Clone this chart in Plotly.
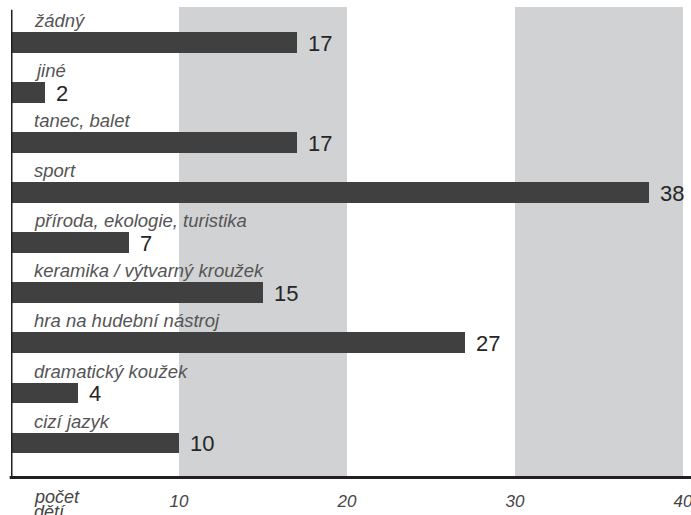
import plotly.graph_objects as go

# Activities (listed bottom to top) and number of children per activity
categories = [
    "cizí jazyk",
    "dramatický koužek",
    "hra na hudební nástroj",
    "keramika / výtvarný kroužek",
    "příroda, ekologie, turistika",
    "sport",
    "tanec, balet",
    "jiné",
    "žádný",
]
counts = [10, 4, 27, 15, 7, 38, 17, 2, 17]
tick_values = [10, 20, 30, 40]
axis_caption = ["počet", "dětí"]

FONT = "Liberation Sans"
BAR_COLOR = "#404040"
BAND_COLOR = "#d1d2d4"
BAR_WIDTH = 0.41

positions = list(range(len(categories)))

fig = go.Figure()
fig.add_trace(go.Bar(
    x=counts,
    y=positions,
    orientation="h",
    width=BAR_WIDTH,
    marker=dict(color=BAR_COLOR, line=dict(width=0)),
    hoverinfo="skip",
    showlegend=False,
))

shapes = []
# alternating grey bands behind the bars
for x0, x1 in [(10, 20), (30, 40)]:
    shapes.append(dict(type="rect", xref="x", yref="paper", x0=x0, x1=x1, y0=0, y1=1,
                       fillcolor=BAND_COLOR, line=dict(width=0), layer="below"))
# axis lines
shapes.append(dict(type="line", xref="paper", yref="paper", x0=-0.002, x1=1.02, y0=-0.003, y1=-0.003,
                   line=dict(color="#231f20", width=3)))
shapes.append(dict(type="line", xref="x", yref="paper", x0=0, x1=0, y0=-0.003, y1=0.994,
                   line=dict(color="#231f20", width=3)))

annotations = []
for pos, cat, val in zip(positions, categories, counts):
    # category name above the bar
    annotations.append(dict(
        x=0, y=pos + BAR_WIDTH / 2, xref="x", yref="y",
        text=cat, showarrow=False, xanchor="left", yanchor="bottom",
        xshift=21, yshift=-1,
        font=dict(family=FONT, size=18.5, color="#555555", style="italic"),
    ))
    # value to the right of the bar
    annotations.append(dict(
        x=val, y=pos, xref="x", yref="y",
        text=str(val), showarrow=False, xanchor="left", yanchor="middle",
        xshift=9, yshift=-1,
        font=dict(family=FONT, size=22, color="#262626"),
    ))

# caption at the origin of the value axis
for i, word in enumerate(axis_caption):
    annotations.append(dict(
        x=0, y=0, xref="x", yref="paper",
        text=word, showarrow=False, xanchor="left", yanchor="middle",
        xshift=21, yshift=-21 - 15 * i,
        font=dict(family=FONT, size=18, color="#444444", style="italic"),
    ))

fig.update_layout(
    width=691, height=515,
    margin=dict(l=11, r=8, t=7, b=39, autoexpand=False),
    paper_bgcolor="white", plot_bgcolor="white",
    shapes=shapes,
    annotations=annotations,
    bargap=0,
    xaxis=dict(
        range=[0, 40.0001], tickvals=tick_values, ticktext=[str(v) for v in tick_values],
        showgrid=False, zeroline=False, showline=False, ticks="",
        tickfont=dict(family=FONT, size=17, color="#444444", style="italic"),
        ticklabelstandoff=13, ticklabeloverflow="allow", automargin=False,
        fixedrange=True,
    ),
    yaxis=dict(
        range=[-0.664, 8.711], showticklabels=False, showgrid=False,
        zeroline=False, showline=False, ticks="", automargin=False, fixedrange=True,
    ),
)

fig.write_html("out.html")
